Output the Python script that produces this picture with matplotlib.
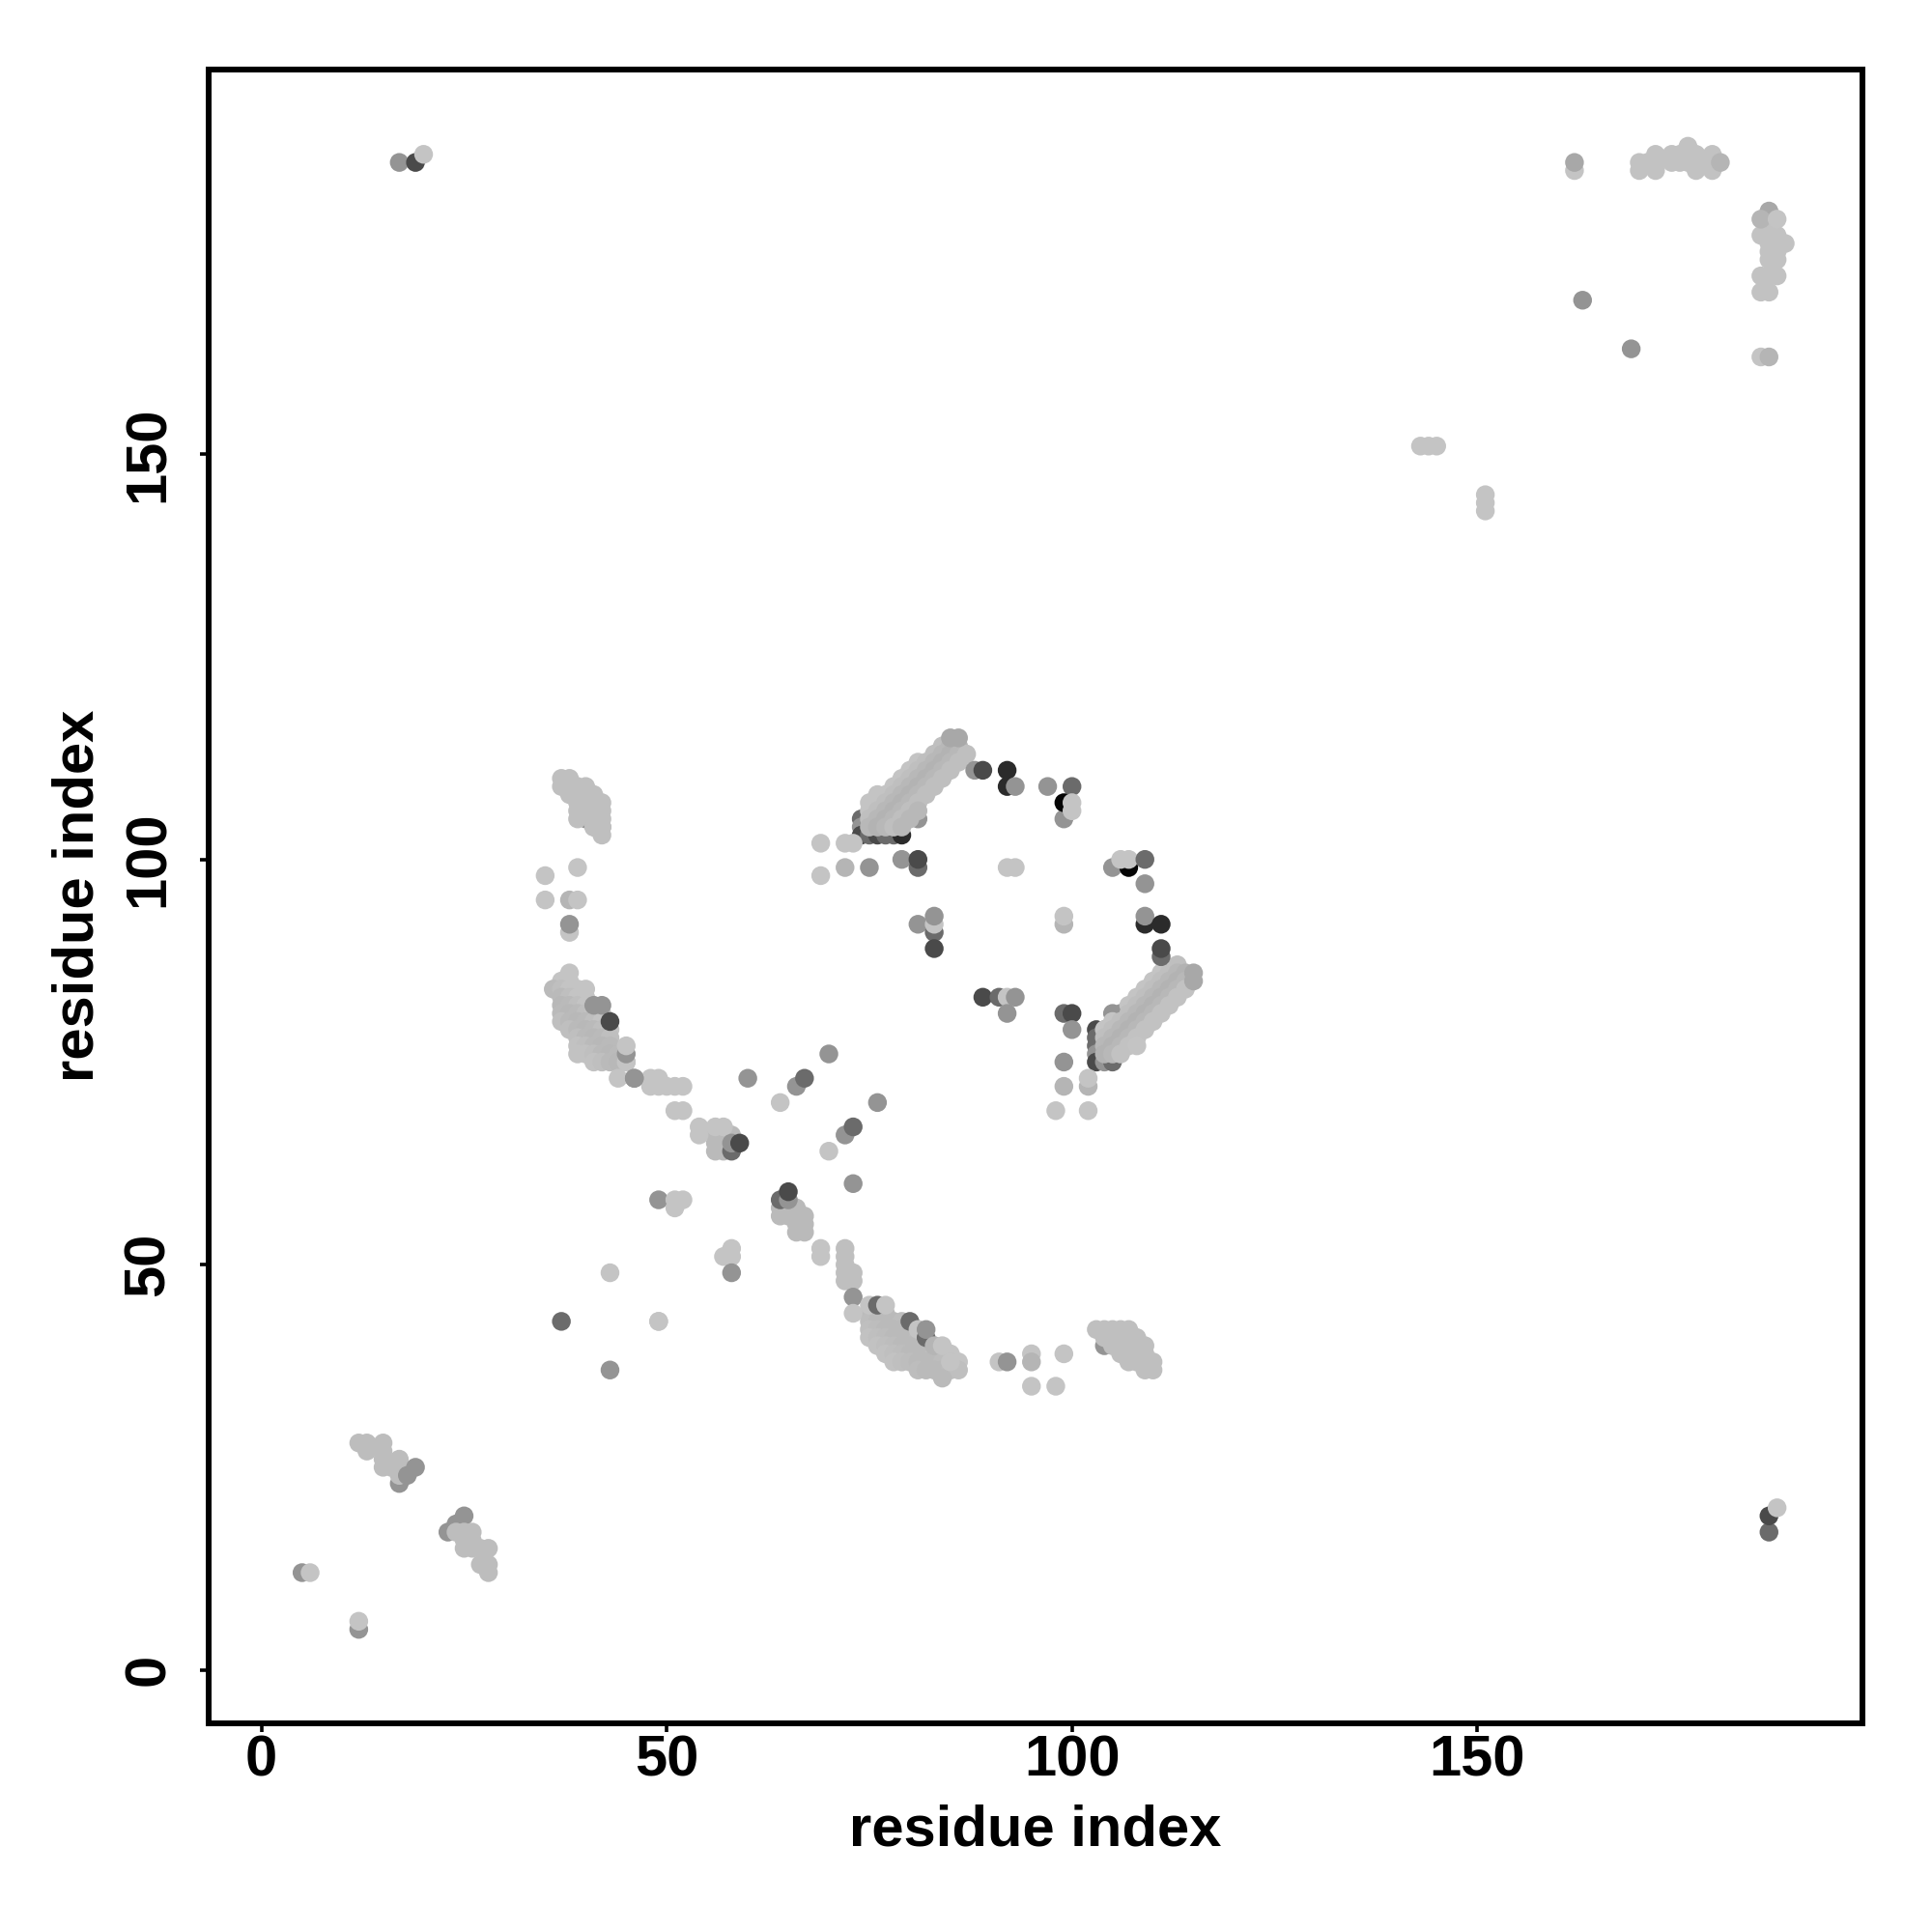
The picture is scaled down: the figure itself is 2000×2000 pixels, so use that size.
import matplotlib
matplotlib.use("Agg")
import matplotlib.pyplot as plt

plt.rcParams['font.family'] = ['Liberation Sans', 'DejaVu Sans']
plt.rcParams['font.weight'] = 'bold'

AXIS_TICKS = [0, 50, 100, 150]
AXIS_LABEL = "residue index"

LIGHT, SOFT, PALE, MID, DARKMID, DARK, VDARK, BLACK = 0.77, 0.71, 0.66, 0.58, 0.42, 0.29, 0.17, 0.02

# --- points drawn first (underneath the dense bands) ---
under_x = [74, 74, 74, 75, 76, 77, 78, 79, 81, 40, 41, 42,
           103, 103, 103, 103, 103, 104, 105, 104,
           105, 106, 38, 104, 17, 23, 24, 25]
under_y = [105, 104, 103, 103, 103, 103, 103, 103, 105, 105, 104, 104,
           79, 78, 77, 76, 75, 75, 75, 79,
           81, 81, 91, 40, 23, 17, 18, 19]
under_g = [DARKMID, MID, DARK, DARKMID, DARK, DARKMID, DARKMID, VDARK, MID, MID, SOFT, PALE,
           DARK, DARKMID, DARKMID, MID, DARK, MID, DARKMID, MID,
           MID, MID, LIGHT, MID, MID, MID, MID, MID]

# --- light dense bands, row by row ---
band_up_y = [114, 113, 112, 111, 110, 109, 108, 107, 106, 105, 104]
band_up_x = [[84, 85, 86], [83, 84, 85, 86, 87], [81, 82, 83, 84, 85, 86],
             [80, 81, 82, 83, 84, 85], [79, 80, 81, 82, 83, 84], [78, 79, 80, 81, 82, 83],
             [76, 77, 78, 79, 80, 81, 82], [75, 76, 77, 78, 79, 80, 81],
             [75, 76, 77, 78, 79, 80, 81], [75, 76, 77, 78, 79, 80], [75, 76, 77, 78, 79]]

band_right_y = [87, 86, 85, 84, 83, 82, 81, 80, 79, 78, 77, 76]
band_right_x = [[113], [111, 112, 113, 114], [110, 111, 112, 113, 114],
                [109, 110, 111, 112, 113, 114], [108, 109, 110, 111, 112, 113],
                [107, 108, 109, 110, 111, 112], [107, 108, 109, 110, 111],
                [105, 106, 107, 108, 109, 110], [104, 105, 106, 107, 108, 109],
                [104, 105, 106, 107, 108], [104, 105, 106, 107, 108], [104, 105, 106]]

band_left_y = [86, 85, 84, 83, 82, 81, 80, 79, 78, 77, 76, 75]
band_left_x = [[38], [37, 38], [36, 37, 38, 39], [37, 38, 39, 40], [37, 38, 39, 40],
               [37, 38, 39, 40, 41, 42], [37, 38, 39, 40, 41, 42], [38, 39, 40, 41, 42, 43],
               [39, 40, 41, 42, 43], [39, 40, 41, 42, 43], [39, 40, 41, 42, 43, 44],
               [41, 42, 43, 44, 45]]

band_low_y = [44, 43, 42, 41, 40, 39, 38, 37, 36]
band_low_x = [[75, 76, 77], [75, 76, 77, 78, 79], [75, 76, 77, 78, 79, 80, 81],
              [75, 76, 77, 78, 79, 80, 81], [76, 77, 78, 79, 80, 81, 82, 83],
              [77, 78, 79, 80, 81, 82, 83, 84, 85], [78, 79, 80, 81, 82, 83, 84, 85, 86],
              [81, 82, 83, 84, 85, 86], [84]]

# band shading across each diagonal
shade_up = {-32: 0.77, -31: 0.77, -30: 0.75, -29: 0.72, -28: 0.70, -27: 0.72, -26: 0.75, -25: 0.72}
shade_right = {24: 0.77, 25: 0.77, 26: 0.75, 27: 0.72, 28: 0.70, 29: 0.72, 30: 0.76, 31: 0.77}
shade_left = {115: 0.76, 116: 0.76, 117: 0.75, 118: 0.73, 119: 0.72, 120: 0.73, 121: 0.75}
shade_low = {116: 0.76, 117: 0.75, 118: 0.74, 119: 0.73, 120: 0.73, 121: 0.73, 122: 0.74, 123: 0.75}

blob_top_y = [110, 109, 108, 107, 106, 105, 104, 103]
blob_top_x = [[37, 38], [37, 38, 39, 40], [38, 39, 40, 41], [39, 40, 41, 42],
              [39, 40, 41, 42], [39, 41, 42], [41, 42], [42]]
blob_low_y = [42, 41, 40, 39, 38, 37]
blob_low_x = [[103, 104, 105, 106, 107], [104, 105, 106, 107, 108], [105, 106, 107, 108, 109],
              [106, 107, 108, 109], [107, 108, 109, 110], [109, 110]]
corner_top_y = [188, 187, 186, 185]
corner_top_x = [[176], [172, 174, 175, 176, 177, 179],
                [170, 171, 172, 174, 175, 176, 177, 178, 179], [170, 172, 177, 179]]
corner_side_y = [178, 177, 176, 175, 174, 172, 170]
corner_side_x = [[186], [185, 186, 187], [186, 187, 188], [186, 187], [186, 187],
                 [185, 186, 187], [185, 186]]
cluster_mid_y = [66, 65, 64]
cluster_mid_x = [[56, 57, 58], [56, 57], [56, 57]]
cluster_cross_y = [57, 56, 55, 54]
cluster_cross_x = [[64, 65, 66], [64, 65, 66, 67], [66, 67], [66, 67]]
column_y = [52, 51, 50, 49, 48]
column_x = [[72], [72], [72], [72, 73], [72, 73]]
chain_a_y = [28, 27, 26, 25, 24]
chain_a_x = [[12, 13, 15], [13, 15], [15, 17], [15, 16, 17], [17]]
chain_b_y = [17, 16, 15, 13, 12]
chain_b_x = [[24, 25, 26], [25, 26], [25, 26, 27, 28], [27, 28], [28]]

# --- isolated points, drawn last ---
top_x = [35, 35, 38, 39, 39, 44, 48, 48, 49, 49, 50, 51, 52, 51, 52, 54, 54, 56, 57,
         69, 72, 73, 69, 72, 75, 79, 81, 81, 88, 89, 92, 92, 93, 97, 100, 99, 99, 100, 100,
         92, 93, 105, 107, 106, 107, 109, 109, 109, 109, 111, 111, 111,
         89, 91, 92, 93, 92, 99, 100, 100, 99, 99, 102, 102, 98, 102,
         81, 83, 83, 83, 83, 99, 99, 85, 86, 115, 115,
         40, 41, 42, 43, 45, 45, 45, 46,
         46, 60, 64, 66, 67, 70, 76, 70, 72, 73, 73, 49, 51, 52, 51, 58, 58, 59,
         64, 65, 65, 69, 69, 57, 58, 58, 58, 49, 73, 73, 75, 76, 77, 80, 81, 82, 82, 83, 84, 85,
         91, 92, 95, 95, 99, 95, 98,
         162, 162, 163, 169, 185, 186, 186, 185, 187, 180,
         17, 19, 20, 143, 144, 145, 151, 151, 151, 186, 186, 187,
         37, 43, 43, 49, 5, 6, 12, 12, 18, 19, 38]
top_y = [98, 95, 95, 99, 95, 73, 73, 72, 73, 72, 72, 72, 72, 69, 69, 67, 66, 67, 67,
         102, 102, 102, 98, 99, 99, 100, 99, 100, 111, 111, 111, 109, 109, 109, 109, 105, 107, 106, 107,
         99, 99, 99, 99, 100, 100, 100, 97, 92, 93, 92, 88, 89,
         83, 83, 83, 83, 81, 81, 81, 79, 75, 72, 72, 73, 69, 69,
         92, 91, 92, 93, 89, 92, 93, 115, 115, 86, 85,
         84, 82, 82, 80, 75, 76, 77, 73,
         73, 73, 70, 72, 73, 76, 70, 64, 66, 67, 60, 58, 58, 58, 57, 64, 65, 65,
         58, 58, 59, 52, 51, 51, 52, 51, 49, 43, 46, 44, 45, 45, 45, 43, 42, 41, 42, 40, 40, 38,
         38, 38, 39, 38, 39, 35, 35,
         185, 186, 169, 163, 162, 162, 180, 179, 179, 186,
         186, 186, 187, 151, 151, 151, 145, 144, 143, 17, 19, 20,
         43, 49, 37, 43, 12, 12, 5, 6, 24, 25, 92]
top_g = [LIGHT, LIGHT, SOFT, LIGHT, LIGHT, LIGHT, LIGHT, LIGHT, LIGHT, LIGHT, LIGHT, LIGHT, LIGHT, LIGHT, LIGHT, LIGHT, LIGHT, LIGHT, LIGHT,
         LIGHT, LIGHT, LIGHT, LIGHT, SOFT, MID, MID, DARKMID, DARK, MID, DARK, VDARK, VDARK, MID, MID, DARKMID, MID, BLACK, LIGHT, LIGHT,
         LIGHT, LIGHT, MID, BLACK, LIGHT, LIGHT, DARKMID, MID, VDARK, MID, VDARK, DARKMID, DARK,
         DARK, DARKMID, LIGHT, MID, MID, DARKMID, DARK, MID, MID, SOFT, SOFT, LIGHT, LIGHT, LIGHT,
         MID, DARKMID, LIGHT, MID, DARK, SOFT, LIGHT, PALE, PALE, PALE, PALE,
         LIGHT, MID, MID, DARK, LIGHT, MID, LIGHT, MID,
         MID, MID, LIGHT, MID, DARKMID, MID, MID, LIGHT, MID, DARKMID, MID, MID, LIGHT, LIGHT, LIGHT, DARKMID, MID, DARK,
         DARKMID, MID, DARK, LIGHT, LIGHT, LIGHT, LIGHT, LIGHT, MID, LIGHT, MID, LIGHT, LIGHT, DARKMID, LIGHT, DARKMID, LIGHT, DARKMID, MID, SOFT, LIGHT, LIGHT,
         LIGHT, MID, LIGHT, SOFT, LIGHT, LIGHT, LIGHT,
         LIGHT, PALE, MID, MID, LIGHT, SOFT, PALE, SOFT, LIGHT, SOFT,
         MID, DARK, LIGHT, LIGHT, LIGHT, LIGHT, LIGHT, LIGHT, LIGHT, DARKMID, DARK, LIGHT,
         DARKMID, LIGHT, MID, LIGHT, MID, LIGHT, MID, LIGHT, MID, MID, MID]

S = 49

fig = plt.figure(figsize=(10, 10), dpi=200)
ax = fig.add_axes([216 / 2000, 1 - 1783.7 / 2000, (1928 - 216) / 2000, (1783.7 - 71.5) / 2000])


def draw_rows(rows_y, rows_x, shade):
    xs, ys = [], []
    for y, row in zip(rows_y, rows_x):
        for x in row:
            xs.append(x)
            ys.append(y)
    ax.scatter(xs, ys, s=S, c=[str(shade)] * len(xs), linewidths=0)


def draw_band(rows_y, rows_x, shades, rising, edge=0.77):
    xs, ys, gs = [], [], []
    for y, row in zip(rows_y, rows_x):
        for x in row:
            xs.append(x)
            ys.append(y)
            key = x - y if rising else x + y
            gs.append(str(shades.get(key, edge)))
    ax.scatter(xs, ys, s=S, c=gs, linewidths=0)


ax.scatter(under_x, under_y, s=S, c=[str(g) for g in under_g], linewidths=0)
for rows_y, rows_x, shade in [
    (blob_top_y, blob_top_x, 0.75), (blob_low_y, blob_low_x, 0.75),
    (corner_top_y, corner_top_x, 0.76), (corner_side_y, corner_side_x, 0.76),
    (cluster_mid_y, cluster_mid_x, 0.73), (cluster_cross_y, cluster_cross_x, 0.73),
    (column_y, column_x, 0.75), (chain_a_y, chain_a_x, 0.74), (chain_b_y, chain_b_x, 0.74),
]:
    draw_rows(rows_y, rows_x, shade)
draw_band(band_up_y, band_up_x, shade_up, True)
draw_band(band_right_y, band_right_x, shade_right, True)
draw_band(band_left_y, band_left_x, shade_left, False)
draw_band(band_low_y, band_low_x, shade_low, False)
ax.scatter(top_x, top_y, s=S, c=[str(g) for g in top_g], linewidths=0)

ax.set_xlim(-6.52, 197.53)
ax.set_ylim(-6.56, 197.52)
for spine in ax.spines.values():
    spine.set_linewidth(2.16)
ax.set_xticks(AXIS_TICKS)
ax.set_yticks(AXIS_TICKS)
ax.tick_params(axis='x', length=3.3, width=1.3, labelsize=21.5, pad=1.0)
ax.tick_params(axis='y', length=3.3, width=1.3, labelsize=21.5, pad=9.0)
for label in ax.get_yticklabels():
    label.set_rotation(90)
    label.set_va('center')
ax.set_xlabel(AXIS_LABEL, fontsize=21.5, fontweight='bold', labelpad=6)
ax.set_ylabel(AXIS_LABEL, fontsize=21.5, fontweight='bold', labelpad=6.6)

fig.savefig('out.png', dpi=200, facecolor='white')
